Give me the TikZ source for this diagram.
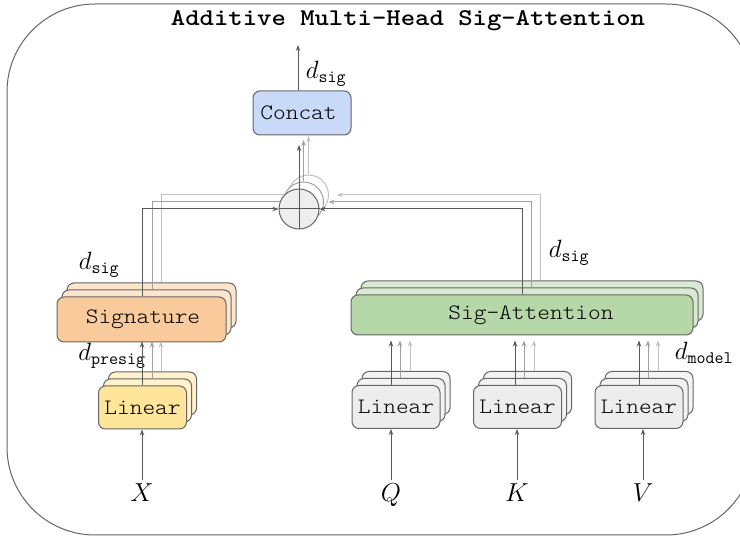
\RequirePackage{fix-cm}
\documentclass[tikz,border=0pt]{standalone}
\usepackage{fontspec}
\usetikzlibrary{arrows.meta}
\newfontfamily\boxfont[FakeStretch=1.1]{lmmonolt10-regular.otf}
\newfontfamily\titlefont[FakeStretch=1.14]{lmmonolt10-bold.otf}
\definecolor{cEdge}{HTML}{666666}
\definecolor{cLineA}{HTML}{595959}
\definecolor{cLineB}{HTML}{A0A0A0}
\definecolor{cLineC}{HTML}{C0C0C0}
\definecolor{cConcat}{HTML}{C9DAF8}
\definecolor{cSigF}{HTML}{F9CB9C}
\definecolor{cSigB}{HTML}{FCE5CD}
\definecolor{cYlinF}{HTML}{FFE599}
\definecolor{cYlinB}{HTML}{FFF2CC}
\definecolor{cAttF}{HTML}{B6D7A8}
\definecolor{cAttB}{HTML}{D9EAD3}
\definecolor{cGlinF}{HTML}{EDEDED}
\definecolor{cGlinB}{HTML}{F3F3F3}
\definecolor{cOp}{HTML}{EEEEEE}
\tikzset{
  box/.style={draw=cEdge, line width=1pt, rounded corners=7pt, inner sep=0pt,
    font=\boxfont\fontsize{22}{26}\selectfont},
  linbox/.style={box, minimum width=88pt, minimum height=43pt},
  sigbox/.style={box, minimum width=169pt, minimum height=45pt},
  attbox/.style={box, minimum width=342pt, minimum height=40pt},
  tipA/.style={-{Stealth[length=6pt,width=4.5pt]}},
  lnA/.style={draw=cLineA, line width=1pt},
  lnB/.style={draw=cLineB, line width=1pt},
  lnC/.style={draw=cLineC, line width=1pt},
  arrA/.style={lnA, tipA},
  arrB/.style={lnB, tipA},
  arrC/.style={lnC, tipA},
  opc/.style={circle, minimum size=40pt, inner sep=0pt, line width=1pt},
  dlbl/.style={inner sep=0pt, font=\fontsize{25}{30}\selectfont},
  inlbl/.style={inner sep=5pt, text height=17pt, text depth=4pt, font=\fontsize{26}{30}\selectfont},
}
\begin{document}
\begin{tikzpicture}[x=1pt,y=-1pt]
\useasboundingbox (0,0) rectangle (740,537);
% outer frame (its right side runs past the picture's edge)
\begin{scope}
\clip (0,0) rectangle (740,537);
\draw[cEdge, line width=1pt, rounded corners=88pt] (7,4) rectangle (754,535);
\end{scope}
\node[font=\titlefont\fontsize{24}{28}\selectfont, inner sep=0pt] (title) at (408,21) {Additive Multi-Head Sig-Attention};

% ---------- Concat ----------
\node[box, fill=cConcat, minimum width=98pt, minimum height=44pt] (concat) at (302,113) {Concat\hspace*{7pt}};
\coordinate (out) at (298,45);
\draw[arrA] (concat.north -| out) -- (out);
\node[dlbl] (dsigTop) at (326,74) {$d_{\mathtt{sig}}$};

% ---------- Signature stack ----------
\node[sigbox, fill=cSigB] (sigC) at (151.5,305.5) {};
\node[sigbox, fill=cSigB] (sigB) at (146.5,312.5) {};
\node[sigbox, fill=cSigF] (sigA) at (141.5,319.5) {\hspace*{3pt}Signature};

% ---------- yellow Linear stack ----------
\node[linbox, fill=cYlinB] (ylinC) at (152.5,393.5) {};
\node[linbox, fill=cYlinB] (ylinB) at (147.5,400.5) {};
\node[linbox, fill=cYlinF] (ylinA) at (142.5,407.5) {Linear};

% ---------- Sig-Attention stack ----------
\node[attbox, fill=cAttB] (attC) at (532,301) {};
\node[attbox, fill=cAttB] (attB) at (527,308) {};
\node[attbox, fill=cAttF] (attA) at (522,315) {\hspace*{18pt}Sig-Attention};

% ---------- gray Linear stacks ----------
\foreach \n/\cx in {q/396, k/517.5, v/639} {
  \node[linbox, fill=cGlinB] (lin\n C) at (\cx+10,393) {};
  \node[linbox, fill=cGlinB] (lin\n B) at (\cx+5,400) {};
  \node[linbox, fill=cGlinF] (lin\n A) at (\cx,407) {Linear};
}

% ---------- oplus (three layers) ----------
\node[opc, draw=cLineC, fill=white] (op3) at (308.5,195) {};
\draw[lnC] (sigC.north -| 161,0) |- (op3.west);
\draw[arrC, shorten >=8pt] (attC.north -| 540,0) |- (op3.east);
\draw[arrC] (op3.north) -- (op3.north |- 0,136);

\node[opc, draw=cLineB, fill=white] (op2) at (303.5,202) {};
\draw[lnB] (sigB.north -| 152,0) |- (op2.west);
\draw[arrB, shorten >=4.5pt] (attB.north -| 531,0) |- (op2.east);
\draw[arrB] (op2.north) -- (op2.north |- 0,140);

\node[opc, draw=cEdge, fill=cOp] (op) at (299,209) {};
\draw[lnA] (op.west) -- (op.east);
\draw[arrA] (sigA.north -| 142,0) |- (op.west);
\draw[arrA] (attA.north -| 522,0) |- (op.east);
\draw[arrA] (op.south) -- (op.south |- 0,145);

\node[dlbl] (dsigL) at (99,265) {$d_{\mathtt{sig}}$};
\node[dlbl] (dsigR) at (569,253) {$d_{\mathtt{sig}}$};
\node[dlbl] (dpre) at (112,356) {$d_{\mathtt{presig}}$};
\node[dlbl] (dmodel) at (704,353) {$d_{\mathtt{model}}$};

% ---------- Linear -> Signature ----------
\draw[arrA, shorten >=-1pt] (ylinA.north -| 142,0) -- (sigA.south -| 142,0);
\draw[arrB, shorten >=-1pt] (ylinB.north -| 152,0) -- (sigA.south -| 152,0);
\draw[arrC, shorten >=-1pt] (ylinC.north -| 161,0) -- (sigA.south -| 161,0);

% ---------- Linear -> Sig-Attention ----------
\foreach \n/\xa/\xb/\xc in {q/391/400/410, k/515/524/534, v/639/648/658} {
  \draw[arrA, shorten >=5pt] (lin\n A.north -| \xa,0) -- (attA.south -| \xa,0);
  \draw[arrB, shorten >=5pt] (lin\n B.north -| \xb,0) -- (attA.south -| \xb,0);
  \draw[arrC, shorten >=5pt] (lin\n C.north -| \xc,0) -- (attA.south -| \xc,0);
}

% ---------- inputs ----------
\node[inlbl] (X) at (142,495.5) {$X$};
\node[inlbl] (Q) at (391,495.5) {$Q$};
\node[inlbl] (K) at (517,495.5) {$K$};
\node[inlbl] (V) at (643,495.5) {$V$};
\draw[arrA] (X.north) -- (X.north |- ylinA.south);
\draw[arrA] (Q.north) -- (Q.north |- linqA.south);
\draw[arrA] (K.north) -- (K.north |- linkA.south);
\draw[arrA] (V.north) -- (V.north |- linvA.south);
\end{tikzpicture}
\end{document}
